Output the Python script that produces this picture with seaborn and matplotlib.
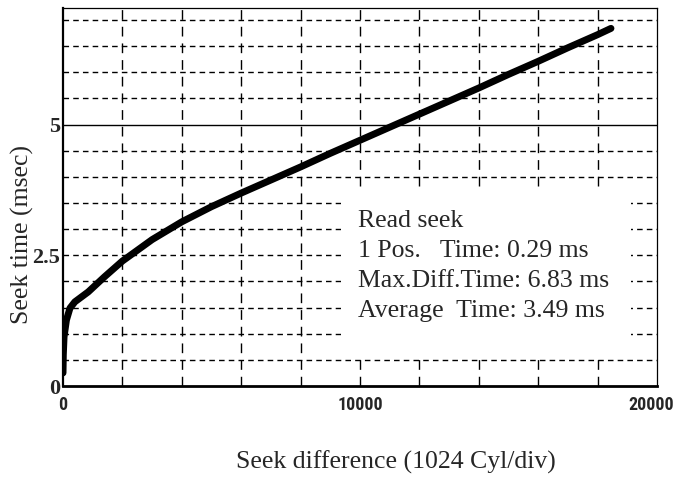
import numpy as np
import pandas as pd
import seaborn as sns
import matplotlib.pyplot as plt
from matplotlib.patches import Rectangle
from matplotlib.transforms import offset_copy

# values
seek_diff = [0, 10, 35, 115, 235, 400, 850, 1400, 2000, 3000, 4000, 5000, 6000, 7000,
             8000, 9000, 10000, 11000, 12000, 13000, 14000, 15000, 16000, 17000, 18000, 18450]
seek_time = [0.25, 0.6, 0.94, 1.26, 1.49, 1.61, 1.80, 2.09, 2.39, 2.8, 3.14, 3.43, 3.69, 3.94,
             4.19, 4.45, 4.70, 4.95, 5.2, 5.45, 5.70, 5.96, 6.21, 6.47, 6.72, 6.84]
x_ticks = [0, 10000, 20000]
y_ticks = [0, 2.5, 5]
y_tick_labels = ["0", "2.5", "5"]
info_lines = ["Read seek", "1 Pos.   Time: 0.29 ms", "Max.Diff.Time: 6.83 ms", "Average  Time: 3.49 ms"]

df = pd.DataFrame({"diff": seek_diff, "time": seek_time})

sns.set_style("white")
plt.rcParams['font.family'] = ['Liberation Serif', 'DejaVu Serif']

fig = plt.figure(figsize=(6.76, 4.79), dpi=100)
ax = fig.add_axes([63/676, (479-386)/479, (657-63)/676, (386-8)/479])

ax.set_xlim(0, 20000)
ax.set_ylim(0, 7.23)

# grid
for yv in np.arange(0.5, 7.01, 0.5):
    if yv == 5:
        ax.axhline(yv, color="black", lw=1.0, zorder=1)
    else:
        ax.axhline(yv, color="black", lw=1.0, dashes=(4, 3), zorder=1)
for xv in np.arange(2000, 19999, 2000):
    ax.axvline(xv, color="black", lw=1.0, dashes=(7, 5), zorder=1)

# white box behind the text
ax.add_patch(Rectangle((9360, 0.54), 9770, 3.15, facecolor="white", edgecolor="none", zorder=2))
for i, line in enumerate(info_lines):
    ax.text(9930, 3.15 - i*0.575, line, fontsize=18.5, va="center", ha="left", zorder=3)

sns.lineplot(data=df, x="diff", y="time", ax=ax, color="black", linewidth=5,
             solid_capstyle="round", zorder=4)

ax.set_xticks(x_ticks)
ax.set_xticks(np.arange(0, 20001, 2000), minor=True)
ax.set_yticks(y_ticks)
ax.set_yticklabels(y_tick_labels, fontsize=16, fontweight="bold")
ax.set_xticklabels([str(v) for v in x_ticks], fontsize=13, fontweight="bold",
                   family=["Roboto Condensed", "Liberation Sans"])
ax.tick_params(axis="x", which="both", direction="in", length=6, width=1, pad=7)
ax.tick_params(axis="y", length=0, pad=2)

ax.set_xlabel("")
ax.set_ylabel("")
fig.text(396/676, 1 - 462/479, "Seek difference (1024 Cyl/div)", fontsize=18.5, ha="center", va="center")
fig.text(22/676, 1 - 235/479, "Seek time (msec)", fontsize=18.5, ha="center", va="center", rotation=90)

for s in ["top", "right"]:
    ax.spines[s].set_linewidth(0.9)
ax.spines["left"].set_linewidth(1.6)
ax.spines["bottom"].set_linewidth(2.0)
for s in ax.spines.values():
    s.set_color("black")
    s.set_zorder(5)

# keep the last tick label inside the picture
fig.canvas.draw()
lab = ax.get_xticklabels()[-1]
bb = lab.get_window_extent()
over = bb.x1 - (fig.bbox.width - 2)
if over > 0:
    lab.set_transform(offset_copy(lab.get_transform(), fig=fig, x=-over, units="dots"))

fig.savefig("out.png", dpi=100)
